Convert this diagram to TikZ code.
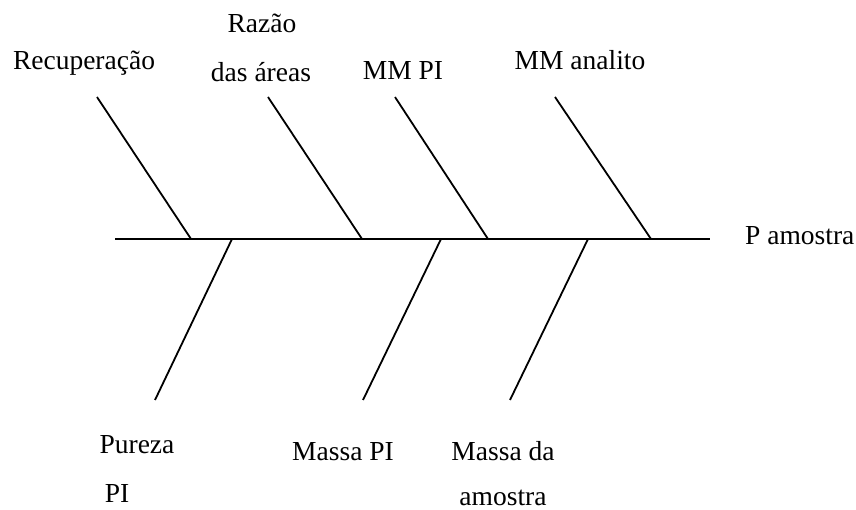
\documentclass[tikz,border=0pt]{standalone}
\usepackage{fontspec}
\setmainfont{Liberation Serif}
\usepackage{xcolor}
\usetikzlibrary{positioning}

\begin{document}
\begin{tikzpicture}[
  x=1pt, y=-1pt,
  bone/.style={line width=1.8pt, black},
  cause/.style={font=\fontsize{27.5}{32}\selectfont, anchor=base, inner sep=0pt},
]
  \useasboundingbox (0,0) rectangle (856,510);

  % Spine
  \coordinate (spineL) at (115,239);
  \coordinate (spineR) at (710,239);
  \draw[bone] (spineL) -- (spineR);
  \node[cause, anchor=base west] (effect) at (745,245) {P amostra};

  % Upper causes
  \foreach \n/\xa/\xb in {rec/97/191, raz/268/362, mmpi/395/488, mman/555/651} {
    \coordinate (\n top) at (\xa,97);
    \coordinate (\n bot) at (\xb,239);
    \draw[bone] (\n top) -- (\n bot);
  }
  \node[cause] (recup) at (84,70) {Recuperação};
  \node[cause] (razao1) at (262,33) {Razão};
  \node[cause] (razao2) at (261,82) {das áreas};
  \node[cause] (mmpi) at (403,80) {MM PI};
  \node[cause] (mmanalito) at (580,70) {MM analito};

  % Lower causes
  \foreach \n/\xa/\xb in {pur/232/155, mpi/441/363, mam/588/510} {
    \coordinate (\n top) at (\xa,239);
    \coordinate (\n bot) at (\xb,400);
    \draw[bone] (\n top) -- (\n bot);
  }
  \node[cause] (pureza1) at (137,453) {Pureza};
  \node[cause] (pureza2) at (117,502) {PI};
  \node[cause] (massapi) at (343,460) {Massa PI};
  \node[cause] (massaam1) at (503,460) {Massa da};
  \node[cause] (massaam2) at (503,505) {amostra};

\end{tikzpicture}
\end{document}
